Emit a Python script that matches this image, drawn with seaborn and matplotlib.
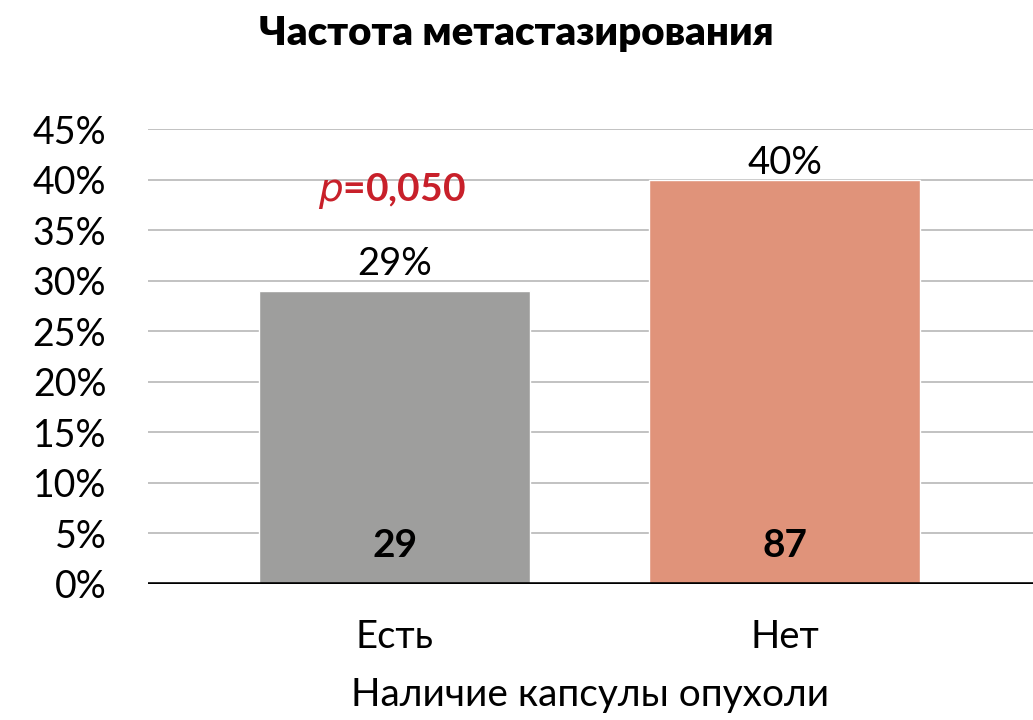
import matplotlib
matplotlib.use("Agg")
import matplotlib.pyplot as plt
import seaborn as sns
import pandas as pd
from matplotlib.ticker import FuncFormatter, MultipleLocator

categories = ["Есть", "Нет"]
percent = [29, 40]
counts = [29, 87]
colors = ["#9e9e9d", "#e0937a"]
title = "Частота метастазирования"
xlabel = "Наличие капсулы опухоли"

sns.set_theme(style="white")
FONT = ["Lato", "Noto Sans", "DejaVu Sans"]
plt.rcParams["font.family"] = FONT
for k in ["text.color", "xtick.color", "ytick.color", "axes.labelcolor"]:
    plt.rcParams[k] = "black"

df = pd.DataFrame({"cat": categories, "pct": percent})

fig = plt.figure(figsize=(10.33, 7.2), dpi=100)
ax = fig.add_axes([148/1033, 1-584/720, 1-148/1033, (584-129)/720])

sns.barplot(data=df, x="cat", y="pct", hue="cat", palette=colors, legend=False,
            width=0.695, ax=ax, saturation=1)

ax.set_ylim(0, 45)
ax.set_xlim(-0.633, 1.636)
ax.yaxis.set_major_locator(MultipleLocator(5))
ax.yaxis.set_major_formatter(FuncFormatter(lambda v, p: f"{v:.0f}%"))
ax.grid(axis="y", color="#bdbdbd", linewidth=1.3)
ax.set_axisbelow(True)
for s in ax.spines.values():
    s.set_visible(False)
ax.axhline(0, color="black", linewidth=2.6, zorder=5)
ax.tick_params(axis="y", length=0, pad=30, labelsize=27)
ax.tick_params(axis="x", length=0, pad=25, labelsize=27.5)
ax.set_ylabel("")
ax.set_xlabel(xlabel, fontsize=28, labelpad=16)

label_offsets = [0.9, -0.1]
for i, (v, n) in enumerate(zip(percent, counts)):
    ax.text(i, v + label_offsets[i], f"{v}%", ha="center", va="bottom", fontsize=27.5)
    ax.text(i, 3.8, f"{n}", ha="center", va="center", fontsize=28, fontweight="bold")

ax.text(-0.008, 38.9, r"$\mathbf{\mathit{p}}$" + "=0,050", ha="center", va="center",
        fontsize=28, fontweight="bold", color="#c8202a")

fig.text(516/1033, 1-33/720, title, ha="center", va="center", fontsize=29, fontweight="heavy")

fig.savefig("out.png", dpi=100)
